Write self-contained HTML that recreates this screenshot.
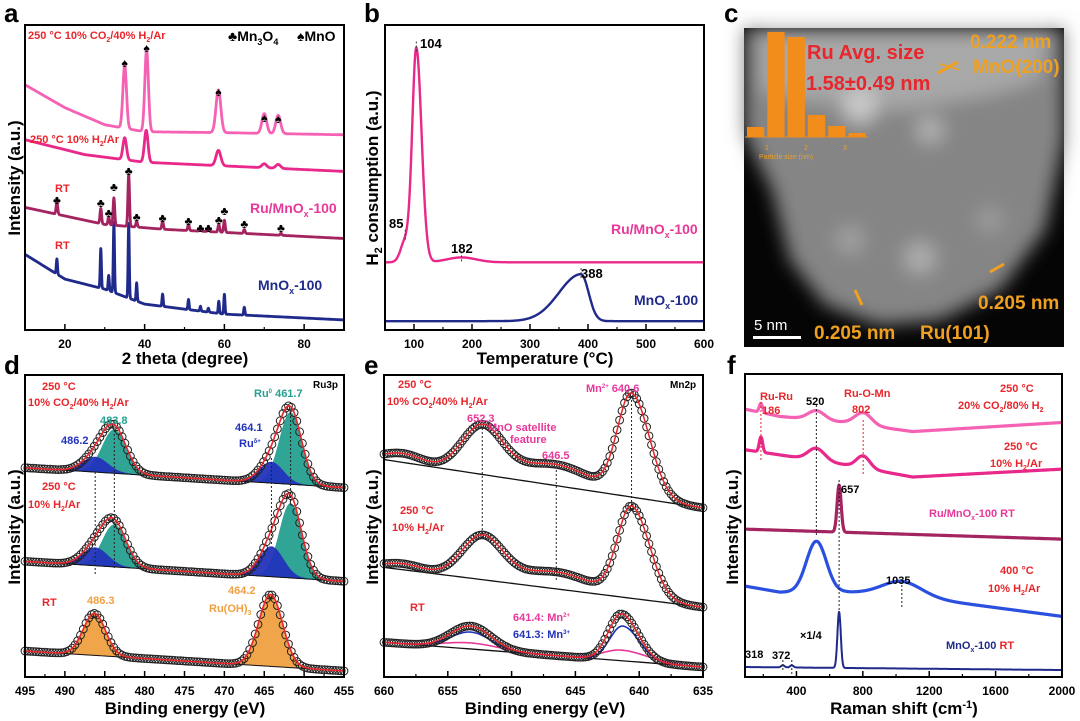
<!DOCTYPE html>
<html><head><meta charset="utf-8"><style>
body{margin:0;background:#fff;}
svg{display:block;font-family:"Liberation Sans",Arial,sans-serif;font-weight:bold;}
</style></head><body>
<svg id="fig" width="1080" height="721" viewBox="0 0 1080 721">
<defs>
<filter id="blur8"><feGaussianBlur stdDeviation="9"/></filter>
</defs>
<g id="layer-fill"></g>
<g id="layer-lines"></g>

<g>
<rect x="744" y="28" width="320" height="319" fill="#050505"/>
<g filter="url(#blur8)">
<path d="M744,28 L1064,28 L1064,140 L1045,230 L1000,290 L940,320 L880,325 L825,305 L790,260 L772,190 L752,150 L744,130 Z" fill="#858585"/>
<path d="M760,28 L1050,28 L1040,80 L990,95 L900,110 L800,100 L760,90 Z" fill="#a8a8a8"/>
<circle cx="860" cy="105" r="18" fill="#c8c8c8"/>
<circle cx="930" cy="130" r="14" fill="#b0b0b0"/>
<circle cx="920" cy="258" r="16" fill="#adadad"/>
<circle cx="850" cy="240" r="14" fill="#a0a0a0"/>
<circle cx="990" cy="220" r="14" fill="#9a9a9a"/>
</g>
</g>
<g id="hist"></g>
<g fill="#f0a020" font-size="19">
<text x="807" y="59" fill="#e8262b" font-size="20">Ru Avg. size</text>
<text x="806" y="90" fill="#e8262b" font-size="20">1.58±0.49 nm</text>
<text x="970" y="48">0.222 nm</text>
<text x="973" y="73">MnO(200)</text>
<text x="978" y="309">0.205 nm</text>
<text x="814" y="339">0.205 nm</text>
<text x="920" y="339">Ru(101)</text>
<text x="765" y="150" font-size="7" font-weight="normal">1</text>
<text x="804" y="150" font-size="7" font-weight="normal">2</text>
<text x="843" y="150" font-size="7" font-weight="normal">3</text>
<text x="759" y="159" font-size="7" font-weight="normal">Particle size (nm)</text>
<line x1="938" y1="73" x2="958" y2="62" stroke="#f0a020" stroke-width="3"/>
<line x1="940" y1="64" x2="960" y2="70" stroke="#f0a020" stroke-width="1.5"/>
<line x1="990" y1="272" x2="1004" y2="264" stroke="#f0a020" stroke-width="3"/>
<line x1="855" y1="290" x2="862" y2="305" stroke="#f0a020" stroke-width="3"/>
<text x="754" y="330" fill="#fff" font-size="15" font-weight="normal">5 nm</text>
<rect x="753" y="336" width="48" height="3" fill="#fff"/>
</g>

<g font-size="26" fill="#000">
<text x="4" y="22">a</text>
<text x="364" y="22">b</text>
<text x="724" y="22">c</text>
<text x="4" y="374">d</text>
<text x="364" y="374">e</text>
<text x="727" y="374">f</text>
</g>

<g font-size="17" text-anchor="middle">
<text x="185" y="364">2 theta (degree)</text>
<text x="545" y="364">Temperature (°C)</text>
<text x="185" y="714">Binding energy (eV)</text>
<text x="545" y="714">Binding energy (eV)</text>
<text x="904" y="714">Raman shift (cm<tspan dy="-6" font-size="11">-1</tspan><tspan dy="6">)</tspan></text>
<text transform="translate(20,178) rotate(-90)">Intensity (a.u.)</text>
<text transform="translate(378,178) rotate(-90)">H<tspan dy="4" font-size="11">2</tspan><tspan dy="-4"> consumption (a.u.)</tspan></text>
<text transform="translate(20,527) rotate(-90)">Intensity (a.u.)</text>
<text transform="translate(378,527) rotate(-90)">Intensity (a.u.)</text>
<text transform="translate(738,527) rotate(-90)">Intensity (a.u.)</text>
</g>

<g font-size="11">
<text x="28" y="39" fill="#e8262b">250 °C 10% CO<tspan dy="3" font-size="7">2</tspan><tspan dy="-3">/40% H</tspan><tspan dy="3" font-size="7">2</tspan><tspan dy="-3">/Ar</tspan></text>
<text x="228" y="41" font-size="14">♣Mn<tspan dy="4" font-size="9">3</tspan><tspan dy="-4">O</tspan><tspan dy="4" font-size="9">4</tspan></text>
<text x="297" y="41" font-size="14">♠MnO</text>
<text x="30" y="143" fill="#e8262b">250 °C 10% H<tspan dy="3" font-size="7">2</tspan><tspan dy="-3">/Ar</tspan></text>
<text x="55" y="192" fill="#e8262b">RT</text>
<text x="55" y="249" fill="#e8262b">RT</text>
<text x="250" y="213" fill="#e8389a" font-size="14">Ru/MnO<tspan dy="4" font-size="9">x</tspan><tspan dy="-4">-100</tspan></text>
<text x="258" y="290" fill="#1f2a8a" font-size="14">MnO<tspan dy="4" font-size="9">x</tspan><tspan dy="-4">-100</tspan></text>
</g>
<g id="markers-a" font-size="12" text-anchor="middle"></g>

<g font-size="13">
<text x="420" y="48">104</text>
<text x="389" y="228">85</text>
<text x="451" y="253">182</text>
<text x="581" y="278">388</text>
<text x="611" y="234" fill="#e8389a" font-size="14">Ru/MnO<tspan dy="4" font-size="9">x</tspan><tspan dy="-4">-100</tspan></text>
<text x="634" y="305" fill="#1f2a8a" font-size="14">MnO<tspan dy="4" font-size="9">x</tspan><tspan dy="-4">-100</tspan></text>
</g>

<g font-size="11">
<text x="42" y="390" fill="#e8262b">250 °C</text>
<text x="28" y="406" fill="#e8262b">10% CO<tspan dy="3" font-size="7">2</tspan><tspan dy="-3">/40% H</tspan><tspan dy="3" font-size="7">2</tspan><tspan dy="-3">/Ar</tspan></text>
<text x="313" y="388" font-size="10">Ru3p</text>
<text x="254" y="397" fill="#26a08f">Ru<tspan dy="-4" font-size="6">0</tspan><tspan dy="4"> 461.7</tspan></text>
<text x="100" y="424" fill="#26a08f">483.8</text>
<text x="61" y="444" fill="#2233bb">486.2</text>
<text x="235" y="431" fill="#2233bb">464.1</text>
<text x="239" y="447" fill="#2233bb">Ru<tspan dy="-4" font-size="6">δ+</tspan></text>
<text x="42" y="490" fill="#e8262b">250 °C</text>
<text x="28" y="508" fill="#e8262b">10% H<tspan dy="3" font-size="7">2</tspan><tspan dy="-3">/Ar</tspan></text>
<text x="42" y="606" fill="#e8262b">RT</text>
<text x="87" y="604" fill="#f0a040">486.3</text>
<text x="228" y="594" fill="#f0a040">464.2</text>
<text x="209" y="612" fill="#f0a040">Ru(OH)<tspan dy="3" font-size="7">3</tspan></text>
</g>

<g font-size="11">
<text x="398" y="388" fill="#e8262b">250 °C</text>
<text x="387" y="405" fill="#e8262b">10% CO<tspan dy="3" font-size="7">2</tspan><tspan dy="-3">/40% H</tspan><tspan dy="3" font-size="7">2</tspan><tspan dy="-3">/Ar</tspan></text>
<text x="586" y="392" fill="#e8389a">Mn<tspan dy="-4" font-size="6">2+</tspan><tspan dy="4">  640.6</tspan></text>
<text x="670" y="388" font-size="10">Mn2p</text>
<text x="467" y="422" fill="#e8389a">652.3</text>
<text x="488" y="431" fill="#e8389a">MnO satellite</text>
<text x="510" y="443" fill="#e8389a">feature</text>
<text x="542" y="459" fill="#e8389a">646.5</text>
<text x="400" y="514" fill="#e8262b">250 °C</text>
<text x="392" y="531" fill="#e8262b">10% H<tspan dy="3" font-size="7">2</tspan><tspan dy="-3">/Ar</tspan></text>
<text x="410" y="611" fill="#e8262b">RT</text>
<text x="513" y="621" fill="#e8389a">641.4: Mn<tspan dy="-4" font-size="6">2+</tspan></text>
<text x="513" y="638" fill="#2233bb">641.3: Mn<tspan dy="-4" font-size="6">3+</tspan></text>
</g>

<g font-size="11">
<text x="760" y="400" fill="#e8262b">Ru-Ru</text>
<text x="762" y="414" fill="#e8262b">186</text>
<text x="806" y="405">520</text>
<text x="844" y="397" fill="#e8262b">Ru-O-Mn</text>
<text x="852" y="413" fill="#e8262b">802</text>
<text x="1000" y="392" fill="#e8262b">250 °C</text>
<text x="958" y="409" fill="#e8262b">20% CO<tspan dy="3" font-size="7">2</tspan><tspan dy="-3">/80% H</tspan><tspan dy="3" font-size="7">2</tspan></text>
<text x="1004" y="450" fill="#e8262b">250 °C</text>
<text x="990" y="467" fill="#e8262b">10% H<tspan dy="3" font-size="7">2</tspan><tspan dy="-3">/Ar</tspan></text>
<text x="841" y="493">657</text>
<text x="929" y="517" fill="#e8389a">Ru/MnO<tspan dy="3" font-size="7">x</tspan><tspan dy="-3">-100  RT</tspan></text>
<text x="1000" y="574" fill="#e8262b">400 °C</text>
<text x="988" y="592" fill="#e8262b">10% H<tspan dy="3" font-size="7">2</tspan><tspan dy="-3">/Ar</tspan></text>
<text x="886" y="584">1035</text>
<text x="800" y="639">×1/4</text>
<text x="946" y="649" fill="#1f2a8a">MnO<tspan dy="3" font-size="7">x</tspan><tspan dy="-3">-100  <tspan fill="#e8262b">RT</tspan></tspan></text>
<text x="745" y="658">318</text>
<text x="772" y="659">372</text>
</g>
<g id="axes"></g>
</svg>
<script>
const aBaseTop=[[10,80.4],[20,72.9],[30,67.3],[40,65],[60,64.7],[90,64]];
const aPeaksTop=[[35,20.6,0.45,0.45],[40.5,26.8,0.45,0.45],[58.5,14,0.6,0.6],[70,6.5,0.6,0.6],[73.5,6,0.6,0.6]];
const aBaseH2=[[10,62.4],[25,57.5],[40,55],[90,52]];
const aPeaksH2=[[35,7.2,0.45,0.45],[40.4,10.5,0.45,0.45],[58.5,5,0.6,0.6],[70,1.3,0.6,0.6],[73.5,1.3,0.6,0.6]];
const aBaseRu=[[10,40.2],[30,34.6],[45,33],[90,30]];
const aPeaksRu=[[18,4,0.2,0.2],[29,5,0.2,0.2],[31,2.6,0.2,0.2],[32.3,9,0.2,0.2],[36,17,0.2,0.2],[38,2,0.2,0.2],[44.5,2.6,0.2,0.2],[51,2,0.2,0.2],[54,1,0.2,0.2],[56,1,0.2,0.2],[58.6,2.6,0.2,0.2],[60,4,0.2,0.2],[65,1.3,0.2,0.2],[74.2,0.7,0.2,0.2]];
const aBaseMn=[[10,24.8],[20,16.7],[30,13.4],[40,8.5],[60,5.2],[90,3.3]];
const aPeaksMn=[[18,5,0.15,0.15],[29,13,0.15,0.15],[31,5,0.15,0.15],[32.3,23,0.15,0.15],[36,24.5,0.15,0.15],[38,6,0.15,0.15],[44.5,4,0.15,0.15],[51,3.3,0.15,0.15],[54,1.6,0.15,0.15],[56,1.3,0.15,0.15],[58.6,4,0.15,0.15],[60,6.5,0.15,0.15],[65,2.6,0.15,0.15]];
const aMnOMarks=[[35,63],[40.5,48],[58.5,92],[70,118],[73.5,119]];
const aMn3O4Marks=[[18,200],[29,203],[31,213],[32.3,187],[36,171],[38,217],[44.5,218],[51,221],[54,228],[56,228],[58.6,220],[60,211],[65,224],[74.2,228]];
const aTicks=[20,40,60,80];
const bBaseRu=[[50,22.2],[600,22.2]];
const bPeaksRu=[[85,7,8,8],[104,70,7,9],[182,1.6,25,25]];
const bBaseMn=[[50,2.9],[600,2.9]];
const bPeaksMn=[[388,15.4,38,13]];
const bTicks=[100,200,300,400,500,600];
const hCounts=[10,105,100,22,11,4];
const dBase=[[[495,69.3],[455,62.7]],[[495,38.3],[455,31.7]],[[495,8.6],[455,2]]];
const dComp=[
 [[483.8,14.5,1.5,1.5,'#26a08f'],[486.2,5,1.6,1.6,'#2233bb'],[461.7,23.8,1.4,1.4,'#26a08f'],[464.1,7,1.5,1.5,'#2233bb']],
 [[483.8,14,1.5,1.5,'#26a08f'],[486.2,6,1.6,1.6,'#2233bb'],[461.7,24.7,1.4,1.4,'#26a08f'],[464.1,10,1.5,1.5,'#2233bb']],
 [[486.3,13.9,1.4,1.4,'#f0a040'],[464.2,23.8,1.5,1.5,'#f0a040']]];
const dTicks=[495,490,485,480,475,470,465,460,455];
const eBase=[[[660,72],[635,56]],[[660,36.3],[635,23.1]],[[660,11.5],[635,3.3]]];
const ePeaks=[
 [[652.3,15.8,1.6,1.6],[640.6,33.7,1.4,1.1],[646.5,7,2.8,2.8],[658.5,3,1.5,1.5]],
 [[652.3,14.2,1.6,1.6],[640.6,30,1.4,1.1],[646.5,5.6,2.8,2.8],[658.5,2,1.5,1.5]],
 [[653.2,7.6,1.6,1.6],[641.4,15.5,1.3,1.0]]];
const eRtComps=[[[653.2,5.6,1.6,1.6],[641.3,11.5,1.3,1.0],'#2233bb'],[[653.2,2,2.2,2.2],[641.4,3.5,2,1.5],'#e8389a']];
const eTicks=[660,655,650,645,640,635];
const fTraces=[
 {base:[[90,88.4],[300,86],[700,84],[1100,81],[2000,84]],peaks:[[186,3,10,10],[520,3,50,50],[802,4,50,50]],color:'#f562b4'},
 {base:[[90,75],[300,73.3],[700,70],[1100,66],[2000,68.6]],peaks:[[186,5,10,10],[520,4,50,50],[802,4,40,40]],color:'#e8288a'},
 {base:[[90,48.8],[2000,45.5]],peaks:[[657,15.5,12,12]],color:'#a3245f'},
 {base:[[90,30],[300,28],[700,28],[1035,27],[2000,20]],peaks:[[520,16.8,60,60],[1035,4.6,120,120]],color:'#2b50e0'},
 {base:[[90,3.3],[2000,2.3]],peaks:[[657,18.5,10,10],[318,0.7,10,10],[372,0.7,10,10]],color:'#1f2a8a'}];
const fTicks=[400,800,1200,1600,2000];

const NS='http://www.w3.org/2000/svg';
const LF=document.getElementById('layer-fill'), LL=document.getElementById('layer-lines'), AX=document.getElementById('axes');
function mk(tag,attrs,parent){const e=document.createElementNS(NS,tag);for(const k in attrs)e.setAttribute(k,attrs[k]);parent.appendChild(e);return e;}
function interp(b,x){if((x-b[0][0])*(b[b.length-1][0]-b[0][0])<=0)return b[0][1];for(let i=1;i<b.length;i++){const a=b[i-1],c=b[i];if((x-a[0])*(x-c[0])<=0){const t=(x-a[0])/(c[0]-a[0]);return a[1]+t*(c[1]-a[1]);}}return b[b.length-1][1];}
function g(p,x){const s=x<p[0]?p[2]:p[3];return p[1]*Math.exp(-0.5*((x-p[0])/s)**2);}
function val(base,peaks,x){let v=interp(base,x);peaks.forEach(p=>v+=g(p,x));return v;}
function axis(px0,px1,py0,py1,d0,d1){return {X:x=>px0+(x-d0)/(d1-d0)*(px1-px0),Y:v=>py1-v*(py1-py0)/100,d0,d1,px0,px1,py0,py1};}
function samples(ax,n){const a=[];for(let i=0;i<=n;i++)a.push(ax.d0+(ax.d1-ax.d0)*i/n);return a;}
function line(ax,fn,n,color,w,name){const pts=samples(ax,n).map(x=>ax.X(x).toFixed(1)+','+ax.Y(fn(x)).toFixed(1));const p=mk('polyline',{points:pts.join(' '),fill:'none',stroke:color,'stroke-width':w,'stroke-linejoin':'round'},LL);

return p;}
function area(ax,fb,ft,n,color,name){const xs=samples(ax,n);const pts=xs.map(x=>ax.X(x).toFixed(1)+','+ax.Y(ft(x)).toFixed(1)).concat(xs.slice().reverse().map(x=>ax.X(x).toFixed(1)+','+ax.Y(fb(x)).toFixed(1)));const p=mk('polygon',{points:pts.join(' '),fill:color,stroke:color,'stroke-width':0.5,'fill-opacity':0.95},LF);

}
function circles(ax,fn,n,name){const gg=mk('g',{},LL);


samples(ax,n).forEach(x=>mk('circle',{cx:ax.X(x).toFixed(1),cy:ax.Y(fn(x)).toFixed(1),r:3.9,fill:'none',stroke:'#222','stroke-width':1},gg));}
function vdot(ax,x,y0,y1,color,name){const l=mk('line',{x1:ax.X(x),x2:ax.X(x),y1:y0,y2:y1,stroke:color,'stroke-width':1,'stroke-dasharray':'2,2'},LL);

}
function frame(ax,ticks,minor,name){const r=mk('rect',{x:ax.px0,y:ax.py0,width:ax.px1-ax.px0,height:ax.py1-ax.py0,fill:'none',stroke:'#000','stroke-width':2},AX);


ticks.forEach(t=>{const x=ax.X(t);mk('line',{x1:x,x2:x,y1:ax.py1,y2:ax.py1-6,stroke:'#000','stroke-width':1.5},AX);
const tx=mk('text',{x:x,y:ax.py1+18,'text-anchor':'middle','font-size':12},AX);tx.textContent=t;

});
minor.forEach(t=>{const x=ax.X(t);mk('line',{x1:x,x2:x,y1:ax.py1,y2:ax.py1-3,stroke:'#000','stroke-width':1.2},AX);});}

const A=axis(25,344,25,330,10,90);
[[aBaseMn,aPeaksMn,'#1f2a8a','xrd-mnox'],[aBaseRu,aPeaksRu,'#a3245f','xrd-rumnox'],[aBaseH2,aPeaksH2,'#e8288a','xrd-h2'],[aBaseTop,aPeaksTop,'#f562b4','xrd-co2']].forEach(s=>line(A,x=>val(s[0],s[1],x),1600,s[2],2.8,s[3]));
const MA=document.getElementById('markers-a');
aMnOMarks.forEach(m=>{const t=mk('text',{x:A.X(m[0]),y:m[1]+4},MA);t.textContent='♠';

});
aMn3O4Marks.forEach(m=>{const t=mk('text',{x:A.X(m[0]),y:m[1]+4},MA);t.textContent='♣';

});
frame(A,aTicks,[30,50,70],'axis-a');

const B=axis(385,704,25,330,50,600);
line(B,x=>val(bBaseRu,bPeaksRu,x),800,'#e8288a',2.4,'tpr-rumnox');
line(B,x=>val(bBaseMn,bPeaksMn,x),800,'#1f2a8a',2.4,'tpr-mnox');
bPeaksRu.forEach(p=>vdot(B,p[0],B.Y(val(bBaseRu,bPeaksRu,p[0]))-6,B.Y(val(bBaseRu,bPeaksRu,p[0]))+6,'#333','tpr-peak-marker'));
vdot(B,bPeaksMn[0][0],B.Y(val(bBaseMn,bPeaksMn,388))-6,B.Y(val(bBaseMn,bPeaksMn,388))+4,'#333','tpr-peak-marker');
frame(B,bTicks,[50,150,250,350,450,550],'axis-b');

const H=document.getElementById('hist');
const hMax=105, hX0=747, hBw=20.3, hBot=137, hH=105;
hCounts.forEach((c,i)=>{const r=mk('rect',{x:hX0+i*hBw,y:hBot-c/hMax*hH,width:hBw-3,height:c/hMax*hH,fill:'#f28c1a'},H);

});
mk('line',{x1:745,x2:868,y1:hBot,y2:hBot,stroke:'#f28c1a','stroke-width':1},H);

const D=axis(25,344,375,677,495,455);
dBase.forEach((b,i)=>{const comps=dComp[i];const fb=x=>interp(b,x);
comps.forEach(c=>area(D,fb,x=>fb(x)+g(c,x),300,c[4],'ru3p-component'));
const fit=x=>fb(x)+comps.reduce((s,c)=>s+g(c,x),0);
mk('polyline',{points:samples(D,100).map(x=>D.X(x)+','+D.Y(fb(x))).join(' '),fill:'none',stroke:'#111','stroke-width':1},LL);
circles(D,fit,115,'ru3p-data-points');
line(D,fit,400,'#e8262b',1.6,'ru3p-fit');});
vdot(D,486.2,472,575,'#222','ru3p-guide');vdot(D,483.8,430,570,'#222','ru3p-guide');vdot(D,464.1,458,545,'#222','ru3p-guide');vdot(D,461.7,412,505,'#222','ru3p-guide');
frame(D,dTicks,[492.5,487.5,482.5,477.5,472.5,467.5,462.5,457.5],'axis-d');

const E=axis(384,703,375,677,660,635);
eBase.forEach((b,i)=>{const fb=x=>interp(b,x);const fit=x=>fb(x)+ePeaks[i].reduce((s,c)=>s+g(c,x),0);
mk('polyline',{points:samples(E,50).map(x=>E.X(x)+','+E.Y(fb(x))).join(' '),fill:'none',stroke:'#111','stroke-width':1.3},LL);
if(i===2){eRtComps.forEach(c=>line(E,x=>fb(x)+g(c[0],x)+g(c[1],x),300,c[2],1.6,'mn2p-component'));}
circles(E,fit,130,'mn2p-data-points');
line(E,fit,400,'#e8262b',1.5,'mn2p-fit');});
vdot(E,652.3,428,538,'#222','mn2p-guide');vdot(E,646.5,470,582,'#222','mn2p-guide');vdot(E,640.6,396,510,'#222','mn2p-guide');
frame(E,eTicks,[657.5,652.5,647.5,642.5,637.5],'axis-e');

const F=axis(745,1062,374,677,90,2000);
fTraces.forEach((t,i)=>line(F,x=>val(t.base,t.peaks,x),900,t.color,i===4?2:3.2,'raman-trace-'+i));
vdot(F,186,402,462,'#e8262b','raman-guide');vdot(F,520,405,535,'#222','raman-guide');vdot(F,802,420,475,'#e8262b','raman-guide');vdot(F,657,480,610,'#222','raman-guide');vdot(F,1035,585,607,'#222','raman-guide');vdot(F,318,660,672,'#222','raman-guide');vdot(F,372,660,676,'#222','raman-guide');
frame(F,fTicks,[200,600,1000,1400,1800],'axis-f');
</script>
</body></html>
